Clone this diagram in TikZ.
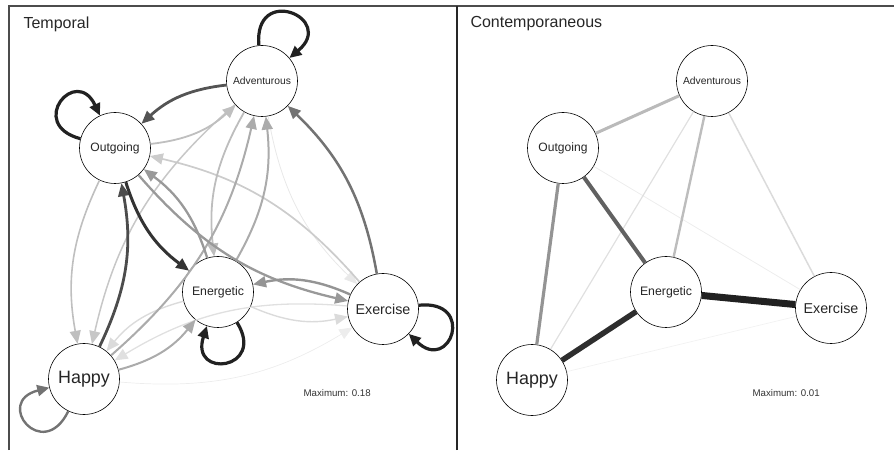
\documentclass[tikz,border=0pt]{standalone}
\usepackage{fontspec}
\setmainfont{Liberation Sans}
\usetikzlibrary{arrows.meta}

\begin{document}
\begin{tikzpicture}[x=1pt,y=1pt]
		\tikzset{vertex/.style = {shape=circle,draw,line width=.6pt,fill=white,minimum size=71pt,inner sep=0pt,text=black!85}}
		\tikzset{edge/.style = {-{Triangle[length=13pt,width=11pt]},bend right=18}}
		\tikzset{selfloop/.style = {-{Triangle[length=12pt,width=11pt]},line width=3.2pt,color=black!87}}
		\tikzset{uedge/.style = {line cap=butt}}
		\tikzset{title/.style = {anchor=west,text=black!85,font=\fontsize{16}{18}\selectfont}}
		\tikzset{maxlabel/.style = {anchor=west,text=black!80,font=\fontsize{9.7}{11}\selectfont}}
		\useasboundingbox (0,0) rectangle (894,450);
		\draw[line width=1.2pt,black!70] (9,0) -- (9,444) -- (894,444);
		\draw[line width=1.6pt,black!85] (457,0) -- (457,444);
		\node[title] (ttitle) at (20,426) {Temporal};
		\node[title] (ctitle) at (467,426) {Contemporaneous};
		\node[maxlabel] (tmax) at (300,57) {Maximum: 0.18};
		\node[maxlabel] (cmax) at (749,57) {Maximum: 0.01};
		% temporal
		\node[vertex,font=\fontsize{10.3}{12}\selectfont] (adv) at (262,369) {Adventurous};
		\node[vertex,font=\fontsize{12.1}{14}\selectfont] (out) at (115,302) {Outgoing};
		\node[vertex,font=\fontsize{12.3}{14}\selectfont] (ene) at (218,158) {Energetic};
		\node[vertex,font=\fontsize{14.3}{16}\selectfont] (exe) at (383,141) {Exercise};
		\node[vertex,font=\fontsize{17.9}{20}\selectfont] (hap) at (84,71) {Happy};
		\path[edge,color=black!7,line width=.7pt] (hap) edge (exe);
		\path[edge,color=black!9,line width=.8pt] (adv) edge (exe);
		\path[edge,color=black!12,line width=1.3pt] (exe) edge (hap);
		\path[edge,color=black!14,line width=1.4pt] (ene) edge (hap);
		\path[edge,color=black!14,line width=1.4pt] (ene) edge (exe);
		\path[edge,color=black!20,line width=1.7pt] (exe) edge (out);
		\path[edge,color=black!22,line width=1.5pt] (adv) edge (hap);
		\path[edge,color=black!25,line width=1.6pt] (out) edge (hap);
		\path[edge,color=black!25,line width=1.8pt] (out) edge (adv);
		\path[edge,color=black!26,line width=1.8pt] (adv) edge (ene);
		\path[edge,color=black!33,line width=2pt] (hap) edge (adv);
		\path[edge,color=black!33,line width=2pt] (ene) edge (adv);
		\path[edge,color=black!33,line width=2pt] (hap) edge (ene);
		\path[edge,color=black!40,line width=2.3pt] (ene) edge (out);
		\path[edge,color=black!40,line width=2.3pt] (out) edge (exe);
		\path[edge,color=black!42,line width=2.4pt] (exe) edge (ene);
		\path[edge,color=black!55,line width=2.5pt] (exe) edge (adv);
		\path[edge,color=black!67,line width=2.8pt] (adv) edge (out);
		\path[edge,color=black!70,line width=2.8pt] (hap) edge (out);
		\path[edge,color=black!80,line width=3pt] (out) edge (ene);
		\path[selfloop,color=black!55,line width=2.4pt] (hap) edge[out=-116,in=-166,distance=58pt] (hap);
		\path[selfloop] (adv) edge[out=95,in=40,distance=62pt] (adv);
		\path[selfloop] (out) edge[out=165,in=115,distance=56pt] (out);
		\path[selfloop] (ene) edge[out=-58,in=-108,distance=56pt] (ene);
		\path[selfloop] (exe) edge[out=6,in=-44,distance=58pt] (exe);
		% contemporaneous
		\node[vertex,font=\fontsize{10.3}{12}\selectfont] (cadv) at (712,369) {Adventurous};
		\node[vertex,font=\fontsize{12.1}{14}\selectfont] (cout) at (563,302) {Outgoing};
		\node[vertex,font=\fontsize{12.3}{14}\selectfont] (cene) at (666,158) {Energetic};
		\node[vertex,font=\fontsize{14.3}{16}\selectfont] (cexe) at (831,142) {Exercise};
		\node[vertex,font=\fontsize{17.9}{20}\selectfont] (chap) at (532,70) {Happy};
		\path[uedge,draw=black!5,line width=.7pt] (chap) edge (cexe);
		\path[uedge,draw=black!7,line width=.8pt] (cout) edge (cexe);
		\path[uedge,draw=black!12,line width=1.2pt] (cadv) edge (chap);
		\path[uedge,draw=black!14,line width=1.5pt] (cadv) edge (cexe);
		\path[uedge,draw=black!26,line width=2.4pt] (cadv) edge (cene);
		\path[uedge,draw=black!27,line width=3pt] (cadv) edge (cout);
		\path[uedge,draw=black!42,line width=3.2pt] (cout) edge (chap);
		\path[uedge,draw=black!62,line width=4pt] (cout) edge (cene);
		\path[uedge,draw=black!82,line width=5.5pt] (cene) edge (chap);
		\path[uedge,draw=black!87,line width=7pt] (cene) edge (cexe);
	\end{tikzpicture}
\end{document}
